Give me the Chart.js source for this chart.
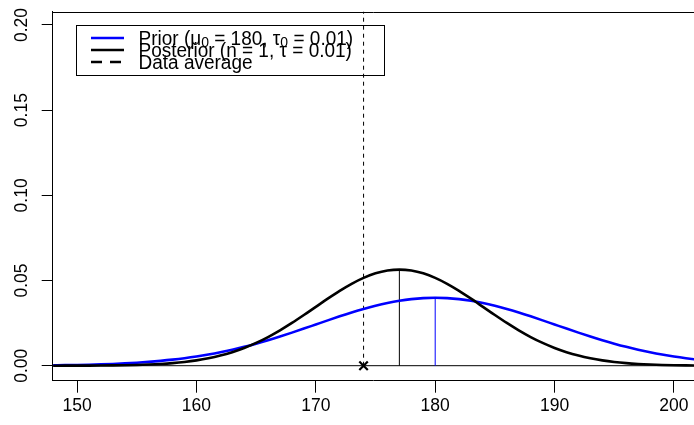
<!DOCTYPE html>
<html>
<head>
<meta charset="utf-8">
<script src="https://cdn.jsdelivr.net/npm/chart.js@4/dist/chart.umd.min.js"></script>
<style>
  html, body { margin: 0; padding: 0; background: #fff; overflow: hidden; }
  #wrap { position: relative; width: 694px; height: 425px; }
</style>
</head>
<body>
<div id="wrap"><canvas id="c"></canvas></div>
<script>
// ---- data ----
const xValues = [148,149,150,151,152,153,154,155,156,157,158,159,160,161,162,163,164,165,166,167,168,169,170,171,172,173,174,175,176,177,178,179,180,181,182,183,184,185,186,187,188,189,190,191,192,193,194,195,196,197,198,199,200,201,202,203,204];
const priorDensity = [0.000238,0.000327,0.000443,0.000595,0.000792,0.001042,0.001358,0.001753,0.002239,0.002833,0.003547,0.004398,0.005399,0.006562,0.007895,0.009405,0.011092,0.012952,0.014973,0.017137,0.019419,0.021785,0.024197,0.026609,0.028969,0.031225,0.033322,0.035206,0.036827,0.038139,0.039104,0.039695,0.039894,0.039695,0.039104,0.038139,0.036827,0.035206,0.033322,0.031225,0.028969,0.026609,0.024197,0.021785,0.019419,0.017137,0.014973,0.012952,0.011092,0.009405,0.007895,0.006562,0.005399,0.004398,0.003547,0.002833,0.002239];
const posteriorDensity = [0.000013,0.000022,0.000039,0.000065,0.000109,0.000178,0.000284,0.000446,0.000686,0.001033,0.001526,0.002210,0.003136,0.004361,0.005946,0.007947,0.010410,0.013367,0.016824,0.020755,0.025098,0.029749,0.034564,0.039362,0.043939,0.048077,0.051563,0.054207,0.055858,0.056419,0.055858,0.054207,0.051563,0.048077,0.043939,0.039362,0.034564,0.029749,0.025098,0.020755,0.016824,0.013367,0.010410,0.007947,0.005946,0.004361,0.003136,0.002210,0.001526,0.001033,0.000686,0.000446,0.000284,0.000178,0.000109,0.000065,0.000039];
const priorMean = 180;
const priorPeak = 0.039894;
const posteriorMean = 177;
const posteriorPeak = 0.056419;
const dataAverage = 174;
const xTickValues = [150, 160, 170, 180, 190, 200];
const xTickLabels = ['150', '160', '170', '180', '190', '200'];
const yTickValues = [0, 0.05, 0.10, 0.15, 0.20];
const yTickLabels = ['0.00', '0.05', '0.10', '0.15', '0.20'];
const legendLines = [
  [{t: 'Prior (\u03BC'}, {t: '0', sub: true}, {t: ' = 180, \u03C4'}, {t: '0', sub: true}, {t: ' = 0.01)'}],
  [{t: 'Posterior (n = 1, \u03C4 = 0.01)'}],
  [{t: 'Data average'}]
];

// ---- styles ----
const FONT = '"Liberation Sans", Arial, Helvetica, sans-serif';
const BLUE = '#0000FF';
const BLACK = '#000000';

const pts = (ys) => xValues.map((x, i) => ({x: x, y: ys[i]}));

const extrasPlugin = {
  id: 'extras',
  afterDraw(chart) {
    const ctx = chart.ctx;
    const ca = chart.chartArea;
    const ys = chart.scales.y;
    ctx.save();
    // top border of the plot box
    ctx.strokeStyle = BLACK;
    ctx.lineWidth = 1;
    ctx.beginPath();
    ctx.moveTo(ca.left, Math.round(ca.top) + 0.5);
    ctx.lineTo(chart.width, Math.round(ca.top) + 0.5);
    ctx.stroke();
    // rotated y tick labels
    ctx.fillStyle = BLACK;
    ctx.font = '17.5px ' + FONT;
    ctx.textAlign = 'center';
    ctx.textBaseline = 'middle';
    yTickValues.forEach((v, i) => {
      const py = ys.getPixelForValue(v);
      ctx.save();
      ctx.translate(22.5, py);
      ctx.rotate(-Math.PI / 2);
      ctx.fillText(yTickLabels[i], 0, 0);
      ctx.restore();
    });
    // legend
    const bx = 76.5, by = 25.5, bw = 308, bh = 50;
    ctx.strokeStyle = BLACK;
    ctx.lineWidth = 1;
    ctx.strokeRect(bx, by, bw, bh);
    const lineYs = [38, 50, 62];
    const styles = [
      {c: BLUE, dash: []},
      {c: BLACK, dash: []},
      {c: BLACK, dash: [11, 8]}
    ];
    lineYs.forEach((ly, i) => {
      ctx.save();
      ctx.strokeStyle = styles[i].c;
      ctx.lineWidth = 2.5;
      ctx.setLineDash(styles[i].dash);
      ctx.beginPath();
      ctx.moveTo(91, ly);
      ctx.lineTo(124, ly);
      ctx.stroke();
      ctx.restore();
      let x = 138.5;
      ctx.textAlign = 'left';
      ctx.textBaseline = 'middle';
      legendLines[i].forEach(part => {
        ctx.save();
        ctx.translate(x, ly + 1);
        ctx.scale(1, 1.08);
        if (part.sub) {
          ctx.font = '14px ' + FONT;
          ctx.fillText(part.t, 0, 4);
        } else {
          ctx.font = '19px ' + FONT;
          ctx.fillText(part.t, 0, 0);
        }
        const w = ctx.measureText(part.t).width;
        ctx.restore();
        x += w;
      });
    });
    ctx.restore();
  }
};

new Chart(document.getElementById('c'), {
  type: 'scatter',
  data: {
    datasets: [
      {label: 'cross', data: [{x: dataAverage, y: 0}], showLine: false, pointStyle: 'crossRot',
       pointRadius: 6, pointBorderWidth: 2.2, borderColor: BLACK, backgroundColor: BLACK, order: 0, clip: false},
      {label: 'Prior', data: pts(priorDensity), showLine: true, borderColor: BLUE, borderWidth: 2.6,
       pointRadius: 0, cubicInterpolationMode: 'monotone', order: 2},
      {label: 'Posterior', data: pts(posteriorDensity), showLine: true, borderColor: BLACK, borderWidth: 2.6,
       pointRadius: 0, cubicInterpolationMode: 'monotone', order: 1},
      {label: 'prior mean', data: [{x: priorMean, y: 0}, {x: priorMean, y: priorPeak}], showLine: true,
       borderColor: BLUE, borderWidth: 1, pointRadius: 0, order: 3},
      {label: 'posterior mean', data: [{x: posteriorMean, y: 0}, {x: posteriorMean, y: posteriorPeak}], showLine: true,
       borderColor: BLACK, borderWidth: 1, pointRadius: 0, order: 3},
      {label: 'Data average', data: [{x: dataAverage, y: 0}, {x: dataAverage, y: 0.25}], showLine: true,
       borderColor: BLACK, borderWidth: 1, borderDash: [4, 4], pointRadius: 0, order: 3},
      {label: 'zero', data: [{x: 140, y: 0}, {x: 210, y: 0}], showLine: true,
       borderColor: BLACK, borderWidth: 1, pointRadius: 0, order: 4}
    ]
  },
  options: {
    responsive: true,
    maintainAspectRatio: false,
    animation: false,
    events: [],
    layout: {autoPadding: false, padding: {top: 11.7, right: 0, left: 0, bottom: 0}},
    plugins: {legend: {display: false}, tooltip: {enabled: false}},
    scales: {
      x: {
        type: 'linear',
        min: 147.96,
        max: 201.68,
        afterBuildTicks: (s) => { s.ticks = xTickValues.map(v => ({value: v})); },
        afterFit: (s) => { s.height = 44.3; s.paddingLeft = 0; s.paddingRight = 0; },
        ticks: {
          callback: (v) => xTickLabels[xTickValues.indexOf(v)],
          color: BLACK, font: {family: FONT, size: 17.5}, padding: 3, maxRotation: 0, autoSkip: false
        },
        grid: {drawOnChartArea: false, drawTicks: true, tickLength: 12, color: BLACK, lineWidth: 1},
        border: {display: true, color: BLACK, width: 1}
      },
      y: {
        type: 'linear',
        min: -0.0088,
        max: 0.2078,
        afterBuildTicks: (s) => { s.ticks = yTickValues.map(v => ({value: v})); },
        afterFit: (s) => { s.width = 52.7; s.paddingTop = 0; s.paddingBottom = 0; },
        ticks: {display: false},
        grid: {drawOnChartArea: false, drawTicks: true, tickLength: 11, color: BLACK, lineWidth: 1},
        border: {display: true, color: BLACK, width: 1}
      }
    }
  },
  plugins: [extrasPlugin]
});
</script>
</body>
</html>
